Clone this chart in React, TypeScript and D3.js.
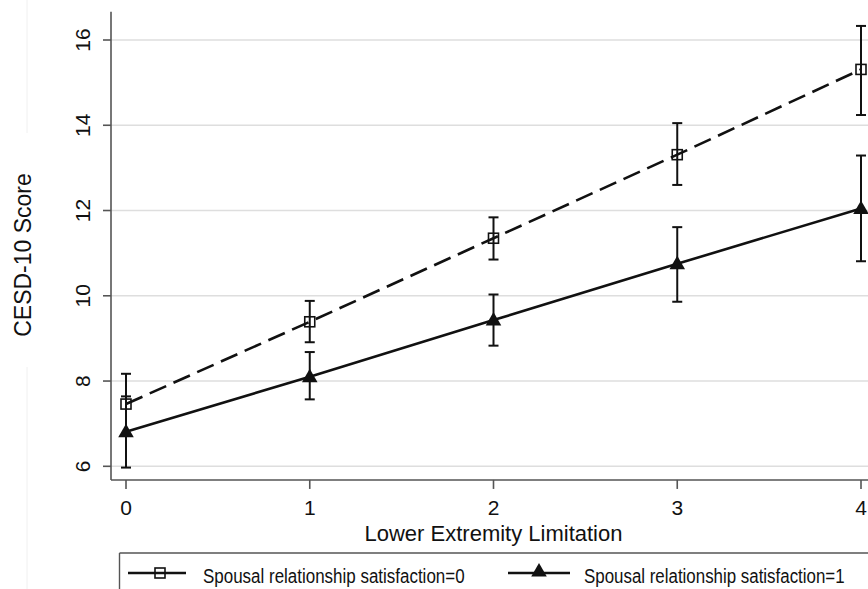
import React from 'react';
import * as d3 from 'd3';

// Lower extremity limitation levels
const limitLevels = [0, 1, 2, 3, 4];

// spousal relationship satisfaction = 0 (hollow squares, dashed)
const sat0Mean = [7.46, 9.39, 11.35, 13.31, 15.31];
const sat0Lower = [6.75, 8.91, 10.85, 12.6, 14.24];
const sat0Upper = [8.17, 9.88, 11.84, 14.05, 16.33];

// spousal relationship satisfaction = 1 (filled triangles, solid)
const sat1Mean = [6.81, 8.1, 9.43, 10.75, 12.05];
const sat1Lower = [5.97, 7.57, 8.83, 9.86, 10.81];
const sat1Upper = [7.64, 8.68, 10.03, 11.61, 13.29];

const yTicks = [6, 8, 10, 12, 14, 16];
const legendLabels = [
  'Spousal relationship satisfaction=0',
  'Spousal relationship satisfaction=1',
];

const width = 868;
const height = 589;
const font = "'Liberation Sans', Arial, Helvetica, sans-serif";

const App = () => {
  const x = d3.scaleLinear().domain([0, 4]).range([126, 861]);
  const y = d3.scaleLinear().domain([6, 16]).range([466.3, 40]);
  const plotLeft = 111;
  const plotTop = y(16.66);
  const plotBottom = y(5.68);

  const line = d3
    .line<number>()
    .x((d, i) => x(limitLevels[i]))
    .y(d => y(d));

  const series = [
    { mean: sat0Mean, lo: sat0Lower, hi: sat0Upper, dash: '18 8', marker: 'square' },
    { mean: sat1Mean, lo: sat1Lower, hi: sat1Upper, dash: null, marker: 'triangle' },
  ];

  const tri = d3.symbol().type(d3.symbolTriangle).size(105)();

  const marker = (kind, cx, cy, key) =>
    kind === 'square' ? (
      <rect key={key} x={cx - 5} y={cy - 5} width={10} height={10}
        fill="none" stroke="#111" strokeWidth={1.6} />
    ) : (
      <path key={key} d={tri} transform={`translate(${cx},${cy + 1})`} fill="#111" />
    );

  return (
    <svg width={width} height={height}
      style={{ position: 'absolute', left: 0, top: 0, background: '#fff' }}
      fontFamily={font}>
      {/* faint outer frame line */}
      <line x1={27} x2={27} y1={0} y2={133} stroke="#f0f0f0" strokeWidth={1} />
      <line x1={27} x2={27} y1={367} y2={height} stroke="#f0f0f0" strokeWidth={1} />

      {/* grid */}
      {yTicks.map(t => (
        <line key={'g' + t} x1={plotLeft} x2={width} y1={y(t)} y2={y(t)}
          stroke="#dedede" strokeWidth={1.6} />
      ))}

      {/* axes */}
      <line x1={plotLeft} x2={plotLeft} y1={plotTop} y2={plotBottom} stroke="#555" strokeWidth={1.6} />
      <line x1={plotLeft} x2={width} y1={plotBottom} y2={plotBottom} stroke="#555" strokeWidth={1.6} />
      {yTicks.map(t => (
        <g key={'yt' + t}>
          <line x1={plotLeft - 8} x2={plotLeft} y1={y(t)} y2={y(t)} stroke="#555" strokeWidth={1.6} />
          <text transform={`translate(90,${y(t)}) rotate(-90)`} textAnchor="middle"
            fontSize={21} fill="#111">{t}</text>
        </g>
      ))}
      {limitLevels.map(v => (
        <g key={'xt' + v}>
          <line x1={x(v)} x2={x(v)} y1={plotBottom} y2={plotBottom + 9} stroke="#555" strokeWidth={1.6} />
          <text x={x(v)} y={515} textAnchor="middle" fontSize={21} fill="#111">{v}</text>
        </g>
      ))}

      <text transform="translate(31,255) rotate(-90)" textAnchor="middle" fontSize={23}
        fill="#111">CESD-10 Score</text>
      <text x={x(2)} y={541} textAnchor="middle" fontSize={22}
        fill="#111">Lower Extremity Limitation</text>

      {/* lines, error bars, markers */}
      {series.map((s, si) => (
        <g key={'s' + si}>
          <path d={line(s.mean)} fill="none" stroke="#111" strokeWidth={2.6}
            strokeDasharray={s.dash || undefined} />
          {s.mean.map((m, i) => {
            const cx = x(limitLevels[i]);
            return (
              <g key={'e' + i}>
                <line x1={cx} x2={cx} y1={y(s.lo[i])} y2={y(s.hi[i])} stroke="#111" strokeWidth={2} />
                <line x1={cx - 5} x2={cx + 5} y1={y(s.lo[i])} y2={y(s.lo[i])} stroke="#111" strokeWidth={2} />
                <line x1={cx - 5} x2={cx + 5} y1={y(s.hi[i])} y2={y(s.hi[i])} stroke="#111" strokeWidth={2} />
                {marker(s.marker, cx, y(m), 'm' + i)}
              </g>
            );
          })}
        </g>
      ))}

      {/* legend (condensed text like the original) */}
      <line x1={119.5} x2={width} y1={553} y2={553} stroke="#555" strokeWidth={1.4} />
      <line x1={119.5} x2={119.5} y1={553} y2={height} stroke="#555" strokeWidth={1.4} />
      <line x1={128} x2={186} y1={573} y2={573} stroke="#111" strokeWidth={2.6} />
      {marker('square', 160, 573, 'lm0')}
      <text transform="translate(203,583) scale(0.808,1)" fontSize={21} fill="#111">{legendLabels[0]}</text>
      <line x1={508} x2={570} y1={573} y2={573} stroke="#111" strokeWidth={2.6} />
      {marker('triangle', 539, 571, 'lm1')}
      <text transform="translate(584,583) scale(0.805,1)" fontSize={21} fill="#111">{legendLabels[1]}</text>
    </svg>
  );
};

export default App;
